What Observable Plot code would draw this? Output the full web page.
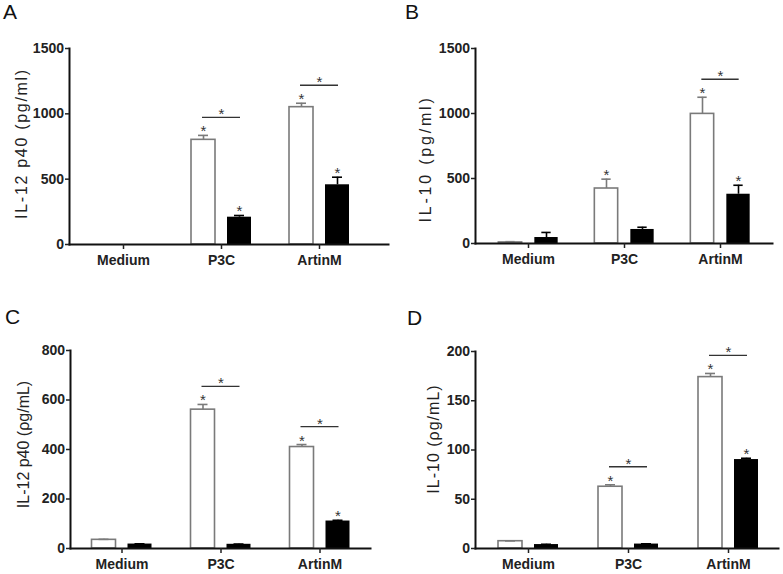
<!DOCTYPE html>
<html><head><meta charset="utf-8">
<script src="https://cdn.jsdelivr.net/npm/d3@7"></script>
<script src="https://cdn.jsdelivr.net/npm/@observablehq/plot@0.6"></script>
<style>
body{margin:0;background:#fff;font-family:"Liberation Sans",Arial,sans-serif;color:#222;}
#wrap{position:relative;width:783px;height:574px;overflow:hidden;}
.panel{position:absolute;}
.letter{position:absolute;font-size:21px;line-height:1;color:#111;}
</style></head><body>
<div id="wrap"></div>
<script>
const categories = ["Medium", "P3C", "ArtinM"];

// Panel A
const aTitle = "IL-12 p40 (pg/ml)";
const aTicks = [0, 500, 1000, 1500];
const aWhite = [0, 801, 1051];
const aWhiteErr = [0, 34, 30];
const aBlack = [0, 209, 457];
const aBlackErr = [0, 13, 58];
const aStarWhite = [false, true, true];
const aStarBlack = [false, true, true];
const aBracket = [false, true, true];

// Panel B
const bTitle = "IL-10 (pg/ml)";
const bTicks = [0, 500, 1000, 1500];
const bWhite = [8, 423, 997];
const bWhiteErr = [6, 72, 128];
const bBlack = [46, 108, 379];
const bBlackErr = [39, 17, 69];
const bStarWhite = [false, true, true];
const bStarBlack = [false, false, true];
const bBracket = [false, false, true];

// Panel C
const cTitle = "IL-12 p40 (ρg/mL)";
const cTicks = [0, 200, 400, 600, 800];
const cWhite = [35, 561, 410];
const cWhiteErr = [2, 21, 10];
const cBlack = [18, 17, 111];
const cBlackErr = [1, 1, 3];
const cStarWhite = [false, true, true];
const cStarBlack = [false, false, true];
const cBracket = [false, true, true];

// Panel D
const dTitle = "IL-10 (ρg/mL)";
const dTicks = [0, 50, 100, 150, 200];
const dWhite = [7.4, 62.7, 174];
const dWhiteErr = [0.3, 2, 3.7];
const dBlack = [4, 4.5, 90.3];
const dBlackErr = [0.3, 0.3, 1.3];
const dStarWhite = [false, true, true];
const dStarBlack = [false, false, true];
const dBracket = [false, true, true];

const panels = [
  {letter: "A", title: aTitle, ticks: aTicks, white: aWhite, whiteErr: aWhiteErr, black: aBlack, blackErr: aBlackErr, sw: aStarWhite, sb: aStarBlack, br: aBracket,
   left: 0, top: 0, width: 390, height: 280, mL: 69, mT: 48, mB: 36, mR: 2, xr: [74, 368], tDx: -48, tDy: -3, tSize: 16, tSpace: 1.7, lx: 3, ly: 1},
  {letter: "B", title: bTitle, ticks: bTicks, white: bWhite, whiteErr: bWhiteErr, black: bBlack, blackErr: bBlackErr, sw: bStarWhite, sb: bStarBlack, br: bBracket,
   left: 390, top: 0, width: 393, height: 280, mL: 85, mT: 48, mB: 37, mR: 11, xr: [89, 379], tDx: -50, tDy: 13, tSize: 16, tSpace: 2.8, lx: 15, ly: 1},
  {letter: "C", title: cTitle, ticks: cTicks, white: cWhite, whiteErr: cWhiteErr, black: cBlack, blackErr: cBlackErr, sw: cStarWhite, sb: cStarBlack, br: cBracket,
   left: 0, top: 285, width: 390, height: 289, mL: 70, mT: 65, mB: 26, mR: 20, xr: [72, 369], tDx: -47, tDy: -5, tSize: 16, tSpace: 0, lx: 5, ly: 21},
  {letter: "D", title: dTitle, ticks: dTicks, white: dWhite, whiteErr: dWhiteErr, black: dBlack, blackErr: dBlackErr, sw: dStarWhite, sb: dStarBlack, br: dBracket,
   left: 390, top: 285, width: 393, height: 289, mL: 85, mT: 66, mB: 26, mR: 5, xr: [88, 388], tDx: -42, tDy: -11, tSize: 16, tSpace: 1, lx: 17, ly: 22}
];

const wrap = document.getElementById("wrap");
const gray = "#7a7a7a";

for (const p of panels) {
  const rows = categories.map((c, i) => ({
    cat: c, w: p.white[i], we: p.whiteErr[i], b: p.black[i], be: p.blackErr[i],
    sw: p.sw[i], sb: p.sb[i], br: p.br[i]
  }));
  const bw = (p.xr[1] - p.xr[0]) / categories.length;
  const h = bw / 2;
  const wTop = d => d.w + d.we;
  const bTop = d => d.b + d.be;
  const maxTop = d => Math.max(wTop(d), bTop(d));
  const yMax = p.ticks[p.ticks.length - 1];

  const chart = Plot.plot({
    width: p.width, height: p.height,
    marginLeft: p.mL, marginTop: p.mT, marginBottom: p.mB, marginRight: p.mR,
    style: {fontFamily: "'Liberation Sans', Arial, sans-serif", color: "#222", background: "white", overflow: "visible"},
    x: {type: "band", domain: categories, range: p.xr, padding: 0},
    y: {domain: [0, yMax], range: [p.height - p.mB, p.mT]},
    marks: [
      Plot.barY(rows, {x: "cat", y: "w", fill: "white", stroke: gray, strokeWidth: 1.6, insetLeft: h - 30, insetRight: h + 6}),
      Plot.barY(rows, {x: "cat", y: "b", fill: "black", insetLeft: h + 6, insetRight: h - 30}),
      Plot.ruleX(rows.filter(d => d.we > 0), {x: "cat", y1: "w", y2: wTop, dx: -18, stroke: gray, strokeWidth: 1.6}),
      Plot.tickY(rows.filter(d => d.we > 0), {x: "cat", y: wTop, insetLeft: h - 23, insetRight: h + 13, stroke: gray, strokeWidth: 1.6}),
      Plot.ruleX(rows.filter(d => d.be > 0), {x: "cat", y1: "b", y2: bTop, dx: 18, stroke: "black", strokeWidth: 1.6}),
      Plot.tickY(rows.filter(d => d.be > 0), {x: "cat", y: bTop, insetLeft: h + 13, insetRight: h - 23, stroke: "black", strokeWidth: 1.6}),
      Plot.text(rows.filter(d => d.sw), {x: "cat", y: wTop, dx: -18, dy: 1, text: () => "*", lineAnchor: "bottom", fontSize: 15, fill: "#333"}),
      Plot.text(rows.filter(d => d.sb), {x: "cat", y: bTop, dx: 18, dy: 1, text: () => "*", lineAnchor: "bottom", fontSize: 15, fill: "#333"}),
      Plot.tickY(rows.filter(d => d.br), {x: "cat", y: maxTop, dy: -18, insetLeft: h - 19, insetRight: h - 19, stroke: "#333", strokeWidth: 1.3}),
      Plot.text(rows.filter(d => d.br), {x: "cat", y: maxTop, dy: -16, text: () => "*", lineAnchor: "bottom", fontSize: 15, fill: "#333"}),
      Plot.frame({anchor: "left", stroke: "#111", strokeWidth: 2}),
      Plot.frame({anchor: "bottom", stroke: "#111", strokeWidth: 2}),
      Plot.axisX({tickSize: 5, tickPadding: 6, fontSize: 14, fontWeight: "bold", label: null, strokeWidth: 1.5}),
      Plot.axisY({ticks: p.ticks, tickFormat: d => String(d), tickSize: 4, tickPadding: 1.5, fontSize: 14, fontWeight: "bold", label: null, strokeWidth: 1.5}),
      Plot.text([p.title], {frameAnchor: "left", textAnchor: "middle", lineAnchor: "middle", rotate: -90, dx: p.tDx, dy: p.tDy, fontSize: p.tSize, fill: "#222"})
    ]
  });
  chart.classList.add("panel");
  chart.style.left = p.left + "px";
  chart.style.top = p.top + "px";
  chart.style.position = "absolute";
  wrap.appendChild(chart);
  for (const t of chart.querySelectorAll("text")) {
    if (t.textContent === p.title && p.tSpace) t.style.letterSpacing = p.tSpace + "px";
  }

  const L = document.createElement("div");
  L.className = "letter";
  L.textContent = p.letter;
  L.style.left = (p.left + p.lx) + "px";
  L.style.top = (p.top + p.ly) + "px";
  wrap.appendChild(L);
}
</script>
</body></html>
